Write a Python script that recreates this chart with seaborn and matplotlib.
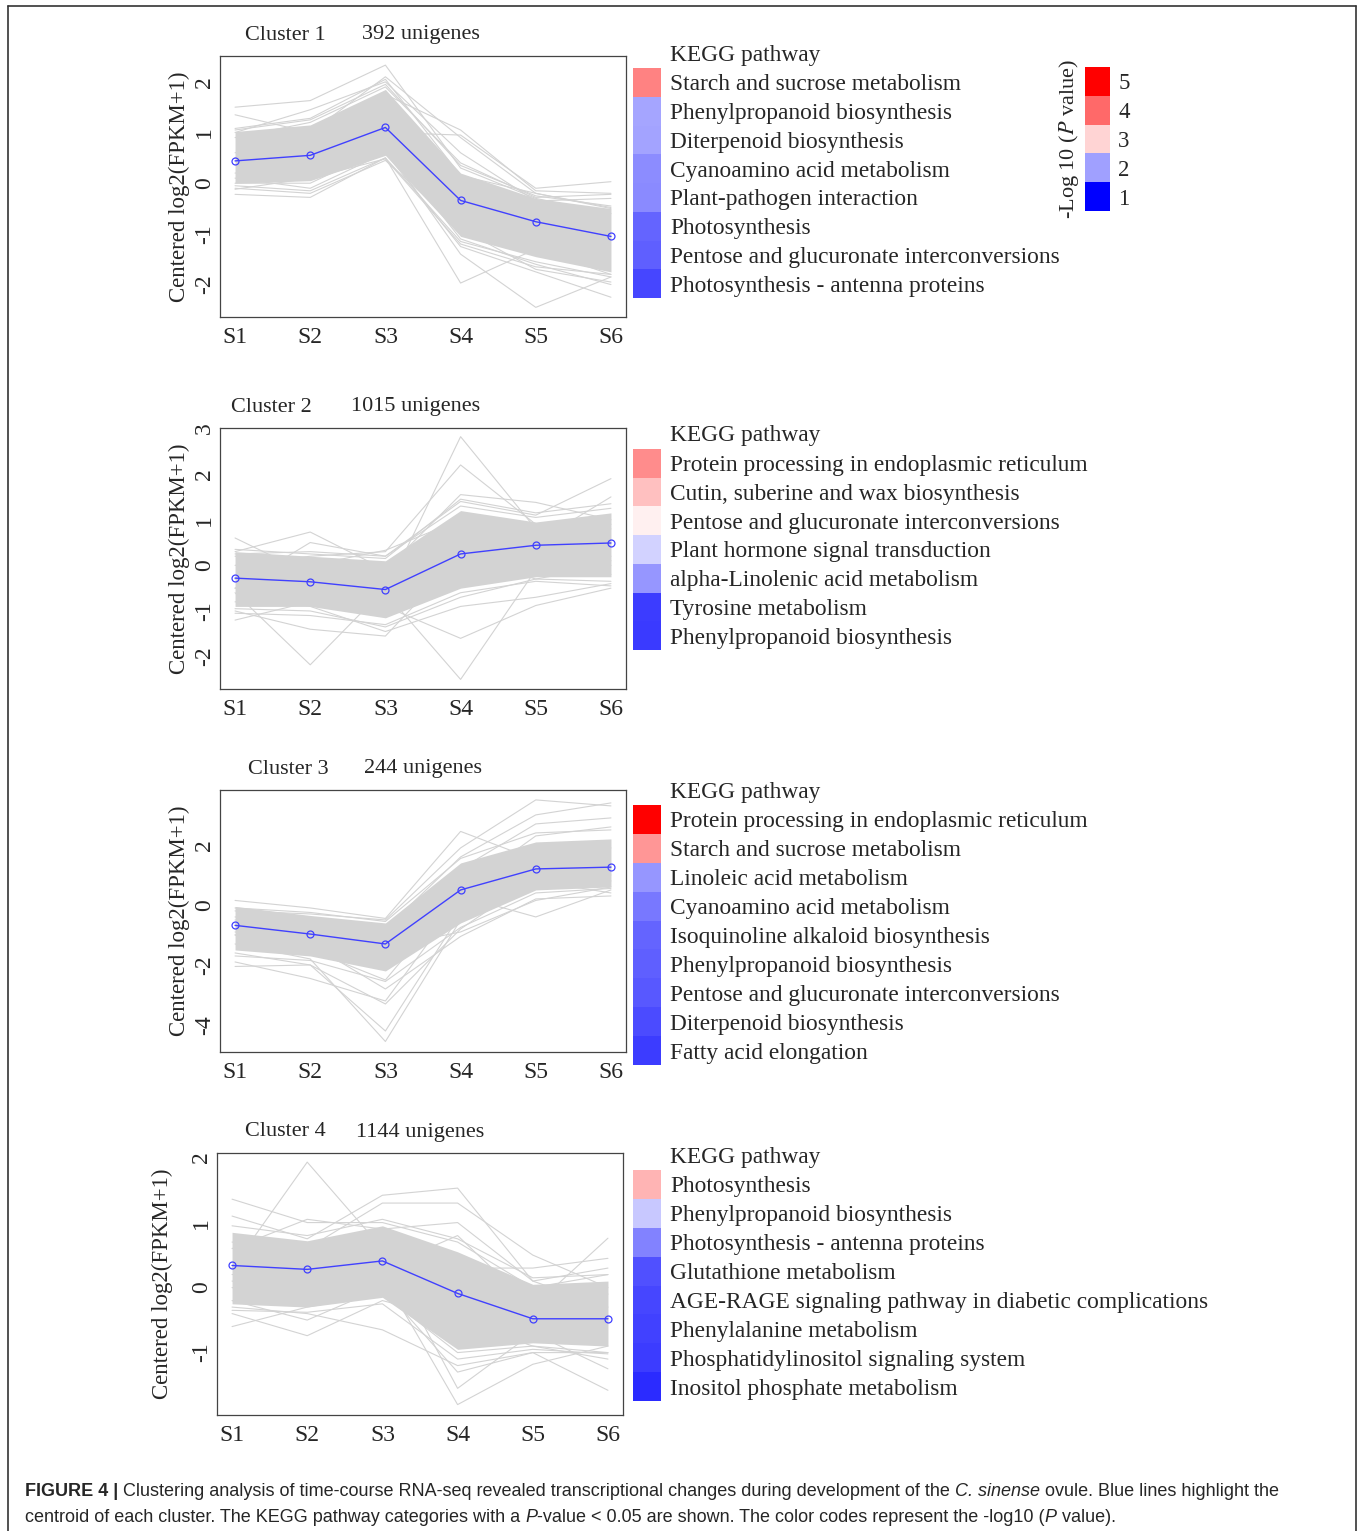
import numpy as np
import pandas as pd
import matplotlib
matplotlib.use("Agg")
import matplotlib.pyplot as plt
import seaborn as sns
from matplotlib.colors import LinearSegmentedColormap
from matplotlib.lines import Line2D

# ---- data ----
stages = ["S1", "S2", "S3", "S4", "S5", "S6"]

# cluster 1
c1_genes = 392
c1_centroid = [0.44, 0.55, 1.10, -0.34, -0.76, -1.05]
c1_core_lo = [0.00, 0.05, 0.55, -1.05, -1.45, -1.75]
c1_core_hi = [1.02, 1.15, 1.85, 0.20, -0.30, -0.50]
c1_lines = [
    [1.50, 1.63, 2.33, 0.30, -0.30, -0.60],
    [1.35, 1.00, 2.10, 0.90, -0.20, -0.50],
    [1.00, 1.45, 2.00, 0.60, -0.35, -0.30],
    [0.50, 1.10, 1.75, 1.05, -0.15, -0.20],
    [0.60, 0.80, 1.00, 0.95, -0.10, 0.03],
    [1.05, 1.25, 1.95, 0.35, -0.25, -0.45],
    [1.08, 1.28, 2.05, 0.15, -0.20, -0.48],
    [0.90, 1.20, 1.90, 0.40, -0.28, -0.22],
    [-0.22, -0.28, 0.50, -1.97, -1.30, -1.80],
    [0.00, 0.00, 0.70, -1.40, -2.45, -1.85],
    [0.10, -0.10, 0.60, -1.25, -1.75, -2.25],
    [0.20, 0.30, 0.80, -1.10, -1.60, -2.00],
    [-0.10, -0.20, 0.45, -0.90, -1.70, -1.95],
    [-0.05, -0.15, 0.50, -1.15, -1.55, -1.85],
    [-0.12, 0.10, 0.48, -1.20, -1.65, -1.80],
]
c1_pathways = ["Starch and sucrose metabolism", "Phenylpropanoid biosynthesis",
               "Diterpenoid biosynthesis", "Cyanoamino acid metabolism",
               "Plant-pathogen interaction", "Photosynthesis",
               "Pentose and glucuronate interconversions",
               "Photosynthesis - antenna proteins"]
c1_logp = [3.78, 2.04, 2.02, 1.88, 1.86, 1.63, 1.60, 1.44]

# cluster 2
c2_genes = 1015
c2_centroid = [-0.28, -0.36, -0.53, 0.25, 0.44, 0.49]
c2_core_lo = [-0.90, -0.90, -1.15, -0.50, -0.25, -0.25]
c2_core_hi = [0.30, 0.20, 0.10, 1.20, 0.95, 1.15]
c2_lines = [
    [0.60, -0.20, -0.60, 2.82, 0.80, 0.90],
    [0.00, 0.20, 0.30, 2.20, 0.90, 0.80],
    [0.30, 0.73, -0.10, 1.55, 1.38, 1.00],
    [-0.50, 0.50, 0.20, 1.40, 1.10, 1.90],
    [0.20, 0.00, 0.33, 1.00, 0.50, 1.50],
    [0.35, 0.25, 0.15, 1.45, 1.15, 1.35],
    [0.25, 0.30, 0.20, 1.30, 1.05, 1.25],
    [-1.20, -0.80, -0.70, 0.30, 0.60, 0.20],
    [-0.60, -2.18, -0.50, -0.20, 0.10, 0.10],
    [-1.00, -1.40, -1.55, 0.20, -0.30, 0.00],
    [-0.30, -0.50, -0.60, -2.50, -0.10, -0.20],
    [-0.80, -0.70, -0.90, -1.60, -0.88, -0.50],
    [-0.50, -0.90, -1.45, -0.90, -0.70, -0.40],
    [-1.05, -1.10, -1.30, -0.60, -0.35, -0.45],
    [-0.95, -1.00, -1.35, -0.70, -0.30, -0.35],
]
c2_pathways = ["Protein processing in endoplasmic reticulum",
               "Cutin, suberine and wax biosynthesis",
               "Pentose and glucuronate interconversions",
               "Plant hormone signal transduction",
               "alpha-Linolenic acid metabolism", "Tyrosine metabolism",
               "Phenylpropanoid biosynthesis"]
c2_logp = [3.68, 3.20, 2.74, 2.32, 1.94, 1.38, 1.36]

# cluster 3
c3_genes = 244
c3_centroid = [-0.68, -0.97, -1.30, 0.50, 1.20, 1.26]
c3_core_lo = [-1.50, -1.70, -2.20, -0.60, 0.50, 0.60]
c3_core_hi = [-0.05, -0.35, -0.60, 1.40, 2.10, 2.20]
c3_lines = [
    [0.15, -0.10, -0.45, 2.45, 1.50, 1.90],
    [-0.20, -0.30, -0.50, 1.90, 3.50, 3.30],
    [-0.40, -0.60, -0.80, 1.60, 3.00, 3.40],
    [-0.50, -0.80, -1.50, 1.20, 2.70, 2.90],
    [-1.00, -1.50, -2.50, 0.50, 2.30, 2.60],
    [-0.10, -0.25, -0.55, 1.55, 2.40, 2.50],
    [-2.05, -2.00, -3.30, -0.80, 0.90, 1.00],
    [-1.90, -2.45, -3.20, 0.20, 1.40, 1.30],
    [-1.30, -1.80, -4.55, -0.50, 0.60, 0.80],
    [-1.60, -2.00, -4.20, -0.30, 0.80, 0.40],
    [-0.90, -1.30, -2.80, -1.05, 0.20, 0.30],
    [-0.60, -0.80, -1.20, 0.30, -0.40, 0.50],
    [-1.00, -1.10, -1.40, -0.90, 0.15, 0.60],
    [-1.70, -1.85, -2.55, -0.75, 0.40, 0.55],
]
c3_pathways = ["Protein processing in endoplasmic reticulum",
               "Starch and sucrose metabolism", "Linoleic acid metabolism",
               "Cyanoamino acid metabolism", "Isoquinoline alkaloid biosynthesis",
               "Phenylpropanoid biosynthesis",
               "Pentose and glucuronate interconversions",
               "Diterpenoid biosynthesis", "Fatty acid elongation"]
c3_logp = [5.0, 3.59, 1.94, 1.75, 1.63, 1.60, 1.56, 1.47, 1.38]

# cluster 4
c4_genes = 1144
c4_centroid = [0.34, 0.28, 0.41, -0.09, -0.48, -0.48]
c4_core_lo = [-0.25, -0.30, -0.15, -0.95, -0.85, -0.90]
c4_core_hi = [0.85, 0.72, 0.95, 0.55, 0.05, 0.10]
c4_lines = [
    [1.36, 1.00, 1.00, 0.70, 0.00, 0.20],
    [1.10, 0.75, 1.42, 1.53, 0.10, 0.30],
    [0.70, 0.60, 1.30, 1.30, 0.50, 0.00],
    [0.30, 1.93, 0.60, 0.20, -0.20, -0.10],
    [0.60, 1.05, 0.90, 1.00, 0.10, -0.30],
    [0.00, -0.20, 0.30, 0.80, -0.30, 0.76],
    [0.20, 0.30, 0.50, 0.30, 0.30, 0.45],
    [0.95, 0.80, 1.05, 0.75, 0.15, 0.20],
    [-0.60, -0.30, -0.10, -1.00, -0.90, -1.10],
    [-0.40, -0.74, -0.20, -0.50, -0.90, -1.00],
    [-0.30, -0.40, -0.65, -1.20, -1.00, -1.58],
    [0.10, -0.10, 0.20, -1.80, -1.18, -0.90],
    [0.30, 0.00, 0.60, -1.55, -0.70, -1.25],
    [-0.20, -0.50, 0.00, -1.30, -1.00, -1.00],
    [-0.35, -0.38, -0.25, -1.10, -0.95, -1.02],
]
c4_pathways = ["Photosynthesis", "Phenylpropanoid biosynthesis",
               "Photosynthesis - antenna proteins", "Glutathione metabolism",
               "AGE-RAGE signaling pathway in diabetic complications",
               "Phenylalanine metabolism", "Phosphatidylinositol signaling system",
               "Inositol phosphate metabolism"]
c4_logp = [3.30, 2.25, 1.82, 1.50, 1.45, 1.41, 1.38, 1.28]

legend_values = [5, 4, 3, 2, 1]

# ---- style ----
sns.set_style("white")
plt.rcParams["font.family"] = ["Liberation Serif", "DejaVu Serif"]
plt.rcParams["mathtext.fontset"] = "stix"

GRAY = "#D3D3D3"
BLUE = "#4040FF"
EDGE = "#444444"
cmap = LinearSegmentedColormap.from_list(
    "bwr_p", [(0.0, "#0000FF"), (0.4, "#FFFFFF"), (1.0, "#FF0000")])

W, H = 1360, 1531
fig = plt.figure(figsize=(W / 100, H / 100), dpi=100)


def box(l, t, r, b):
    return [l / W, 1 - b / H, (r - l) / W, (b - t) / H]


clusters = [
    dict(n=1, genes=c1_genes, cen=c1_centroid, lo=c1_core_lo, hi=c1_core_hi,
         lines=c1_lines, paths=c1_pathways, logp=c1_logp),
    dict(n=2, genes=c2_genes, cen=c2_centroid, lo=c2_core_lo, hi=c2_core_hi,
         lines=c2_lines, paths=c2_pathways, logp=c2_logp),
    dict(n=3, genes=c3_genes, cen=c3_centroid, lo=c3_core_lo, hi=c3_core_hi,
         lines=c3_lines, paths=c3_pathways, logp=c3_logp),
    dict(n=4, genes=c4_genes, cen=c4_centroid, lo=c4_core_lo, hi=c4_core_hi,
         lines=c4_lines, paths=c4_pathways, logp=c4_logp),
]

# layout in pixels (left, top, right, bottom)
plot_boxes = [(220, 56, 626, 317), (220, 428, 626, 689),
              (220, 790, 626, 1052), (217, 1153, 623, 1415)]
ylims = [(-2.64, 2.51), (-2.71, 3.01), (-4.9, 3.83), (-1.96, 2.07)]
yticks = [[-2, -1, 0, 1, 2], [-2, -1, 0, 1, 2, 3], [-4, -2, 0, 2], [-1, 0, 1, 2]]
title_pos = [(245, 362, 35), (231, 351, 407), (248, 364, 769), (245, 356, 1132)]
ylabel_x = [-0.073, -0.073, -0.073, -0.108]
heat_boxes = [(633, 68, 661, 298), (633, 449, 661, 650),
              (633, 805, 661, 1065), (633, 1170, 661, 1401)]
kegg_y = [55, 435, 793, 1157]

x = np.arange(len(stages))

for k, c in enumerate(clusters):
    ax = fig.add_axes(box(*plot_boxes[k]))
    ax.fill_between(x, c["lo"], c["hi"], color=GRAY, lw=0, zorder=1)
    df = pd.DataFrame([(g, xi, v) for g, row in enumerate(c["lines"])
                       for xi, v in zip(x, row)],
                      columns=["gene", "pos", "value"])
    sns.lineplot(data=df, x="pos", y="value", units="gene", estimator=None,
                 color=GRAY, lw=0.8, ax=ax, legend=False, zorder=2)
    sns.lineplot(x=x, y=c["cen"], color=BLUE, lw=1.0, marker="o",
                 markersize=5, markerfacecolor="none", markeredgecolor=BLUE,
                 markeredgewidth=0.9, ax=ax, zorder=3)
    ax.set_xlim(-0.2, 5.2)
    ax.set_ylim(*ylims[k])
    ax.set_xticks(x)
    ax.set_xticklabels(stages)
    ax.set_yticks(yticks[k])
    ax.set_yticklabels([str(t) for t in yticks[k]], rotation=90, va="center")
    ax.tick_params(axis="both", direction="out", length=5, width=0.8,
                   color=EDGE, labelsize=17, pad=2)
    ax.tick_params(axis="y", pad=-1.5)
    for s in ax.spines.values():
        s.set_color(EDGE)
        s.set_linewidth(0.9)
    ax.set_xlabel("")
    ax.set_ylabel("Centered log2(FPKM+1)", fontsize=16.5)
    ax.yaxis.set_label_coords(ylabel_x[k], 0.5)

    tl, tr, ty = title_pos[k]
    fig.text(tl / W, 1 - ty / H, f"Cluster {c['n']}", fontsize=16, va="center")
    fig.text(tr / W, 1 - ty / H, f"{c['genes']} unigenes", fontsize=16, va="center")

    # KEGG heat column
    hax = fig.add_axes(box(*heat_boxes[k]))
    hdf = pd.DataFrame({"p": c["logp"]}, index=c["paths"])
    sns.heatmap(hdf, ax=hax, cmap=cmap, vmin=1, vmax=5, cbar=False,
                xticklabels=False, yticklabels=True)
    hax.yaxis.tick_right()
    hax.tick_params(axis="y", length=0, pad=6.5, labelsize=16.8, labelrotation=0)
    hax.set_ylabel("")
    fig.text(670 / W, 1 - kegg_y[k] / H, "KEGG pathway", fontsize=16.8, va="center")

# colour key
lax = fig.add_axes(box(1085, 67, 1110, 211))
ldf = pd.DataFrame({"v": legend_values}, index=[str(v) for v in legend_values])
sns.heatmap(ldf, ax=lax, cmap=cmap, vmin=1, vmax=5, cbar=False,
            xticklabels=False, yticklabels=True)
lax.yaxis.tick_right()
lax.tick_params(axis="y", length=0, pad=6, labelsize=16.5, labelrotation=0)
lax.yaxis.set_label_position("left")
lax.set_ylabel(r"-Log 10 ($\mathit{P}$ value)", fontsize=16)
lax.yaxis.set_label_coords(-0.17, 0.5)

# outer frame
for xs, ys in [([8, 8], [6, H + 5]), ([1356, 1356], [6, H + 5]), ([8, 1356], [6, 6])]:
    fig.add_artist(Line2D([v / W for v in xs], [1 - v / H for v in ys],
                          transform=fig.transFigure, color="#333333", lw=1.2))

# caption
renderer = fig.canvas.get_renderer()
CAP = 13.0


def caption_line(x_px, y_px, pieces):
    for txt, kw in pieces:
        t = fig.text(x_px / W, 1 - y_px / H, txt, va="center", fontsize=CAP,
                     family=["Liberation Sans", "DejaVu Sans"], **kw)
        x_px += t.get_window_extent(renderer).width


caption_line(25, 1492, [
    ("FIGURE 4 | ", dict(weight="bold")),
    ("Clustering analysis of time-course RNA-seq revealed transcriptional changes during development of the ", {}),
    ("C. sinense", dict(style="italic")),
    (" ovule. Blue lines highlight the", {}),
])
caption_line(25, 1517, [
    ("centroid of each cluster. The KEGG pathway categories with a ", {}),
    ("P", dict(style="italic")),
    ("-value < 0.05 are shown. The color codes represent the -log10 (", {}),
    ("P", dict(style="italic")),
    (" value).", {}),
])

fig.savefig("out.png", dpi=100)
